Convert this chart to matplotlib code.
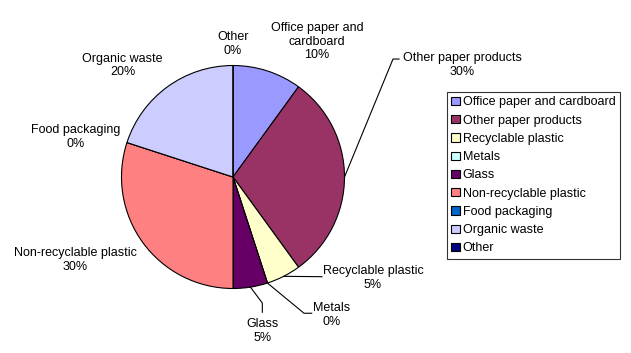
import numpy as np
import matplotlib
matplotlib.use("Agg")
import matplotlib.pyplot as plt

plt.rcParams['font.family'] = ['Liberation Sans', 'DejaVu Sans']

categories = ["Office paper and cardboard", "Other paper products", "Recyclable plastic",
              "Metals", "Glass", "Non-recyclable plastic", "Food packaging",
              "Organic waste", "Other"]
values = [10, 30, 5, 0, 5, 30, 0, 20, 0]
colors = ["#9999FF", "#993366", "#FFFFCC", "#CCFFFF", "#660066",
          "#FF8080", "#0066CC", "#CCCCFF", "#000080"]

# label text positions (pie units, centre 0,0 radius 1) and optional leader elbow points
label_pos = {
    "Office paper and cardboard": (0.753, 1.215),
    "Other paper products": (2.054, 1.004),
    "Recyclable plastic": (1.256, -0.906),
    "Metals": (0.888, -1.235),
    "Glass": (0.263, -1.381),
    "Non-recyclable plastic": (-1.417, -0.744),
    "Food packaging": (-1.408, 0.359),
    "Organic waste": (-0.99, 1.0),
    "Other": (0.0, 1.193),
}
leaders = {
    "Other paper products": [(1.435, 1.058), (1.489, 1.058)],
    "Recyclable plastic": [(0.798, -0.894)],
    "Metals": [(0.637, -1.222), (0.706, -1.222)],
    "Glass": [(0.263, -1.130), (0.263, -1.213)],
}

fig = plt.figure(figsize=(6.31, 3.53), dpi=100)
ax = fig.add_axes([0, 0, 1, 1])
cx, cy, r = 233, 177, 111.5
W, H = 631, 353

ax.pie(values, colors=colors, startangle=90, counterclock=False, radius=1,
       wedgeprops={"linewidth": 0.8, "edgecolor": "black"})
ax.set_aspect('auto')
ax.set_xlim(-cx / r, (W - cx) / r)
ax.set_ylim(-(H - cy) / r, cy / r)
ax.axis('off')

total = sum(values)
start = 0.0
for name, v in zip(categories, values):
    mid = np.radians(start + v / total * 360 / 2)
    start += v / total * 360
    tx, ty = label_pos[name]
    shown = "Office paper and\ncardboard" if name == "Office paper and cardboard" else name
    ax.text(tx, ty, "%s\n%d%%" % (shown, round(100 * v / total)),
            ha='center', va='center', fontsize=9, linespacing=1.2)
    if name in leaders:
        pts = [(np.sin(mid), np.cos(mid))] + leaders[name]
        xs, ys = zip(*pts)
        ax.plot(xs, ys, color='black', lw=0.8)

leg = fig.legend(categories, loc='upper left', bbox_to_anchor=(447 / W, 1 - 92 / H),
                 fontsize=9, frameon=True, fancybox=False, handlelength=0.65,
                 handleheight=0.65, handletextpad=0.25, labelspacing=0.5,
                 borderpad=0.35, borderaxespad=0)
leg.get_frame().set_edgecolor('black')
leg.get_frame().set_linewidth(0.8)

fig.savefig("out.png", dpi=100)
